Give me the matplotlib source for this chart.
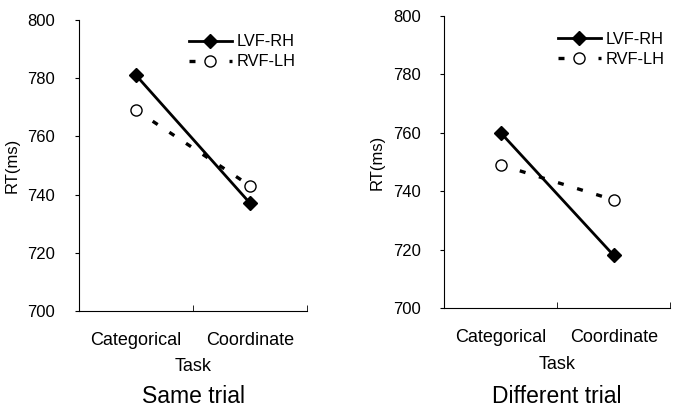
import matplotlib.pyplot as plt
from matplotlib.ticker import FixedLocator

plt.rcParams['font.family'] = ['Liberation Sans', 'DejaVu Sans']

tasks = ['Categorical', 'Coordinate']
same_lvf_rh = [781, 737]
same_rvf_lh = [769, 743]
diff_lvf_rh = [760, 718]
diff_rvf_lh = [749, 737]
panel_titles = ['Same trial', 'Different trial']
y_ticks = [700, 720, 740, 760, 780, 800]

fig = plt.figure(figsize=(6.75, 4.08), dpi=100)
ax1 = fig.add_axes([0.117, 0.238, 0.338, 0.713])
ax2 = fig.add_axes([0.658, 0.245, 0.335, 0.716])

panels = [(ax1, same_lvf_rh, same_rvf_lh, panel_titles[0], 0.286, (1.0, 0.99)),
          (ax2, diff_lvf_rh, diff_rvf_lh, panel_titles[1], 0.825, (1.025, 0.985))]

for ax, lvf, rvf, title, title_x, leg_anchor in panels:
    x = list(range(len(tasks)))
    ax.plot(x, lvf, color='black', lw=2, marker='D', ms=7,
            mfc='black', mec='black', label='LVF-RH')
    ax.plot(x, rvf, color='black', lw=2.4, ls=(0, (1.8, 4.2)), marker='o', ms=8,
            mfc='white', mec='black', mew=1, label='RVF-LH')
    ax.set_xlim(-0.5, 1.5)
    ax.set_ylim(700, 800)
    ax.set_yticks(y_ticks)
    ax.set_xticks(x)
    ax.set_xticklabels(tasks)
    ax.xaxis.set_minor_locator(FixedLocator([0.5, 1.5]))
    ax.tick_params(axis='x', which='major', length=0, pad=15, labelsize=13)
    ax.tick_params(axis='x', which='minor', direction='in', length=4)
    ax.tick_params(axis='y', length=3, labelsize=12, pad=14)
    for s in ['top', 'right']:
        ax.spines[s].set_visible(False)
    ax.set_xlabel('Task', fontsize=13, labelpad=7)
    ax.set_ylabel('RT(ms)', fontsize=12, labelpad=5.5)
    ax.legend(loc='upper right', bbox_to_anchor=leg_anchor, frameon=False,
              fontsize=11.8, handlelength=2.6, handletextpad=0.3,
              labelspacing=0.3, borderaxespad=0.3)
    fig.text(title_x, 0.027, title, fontsize=16.5, ha='center', va='center')

fig.savefig('out.png', dpi=100)
